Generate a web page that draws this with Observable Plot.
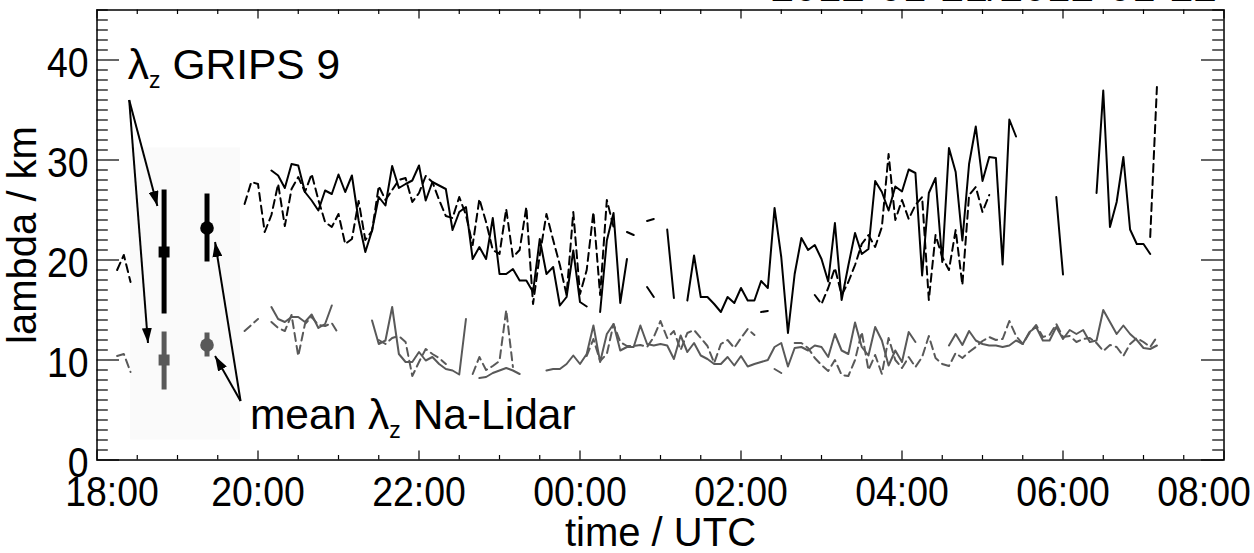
<!DOCTYPE html>
<html>
<head>
<meta charset="utf-8">
<script src="https://cdn.jsdelivr.net/npm/d3@7"></script>
<script src="https://cdn.jsdelivr.net/npm/@observablehq/plot@0.6"></script>
<style>
  html, body { margin: 0; padding: 0; background: white; }
</style>
</head>
<body>
<div id="chart"></div>
<script>
// ---- data (5-minute samples starting 18:00 UTC; null = no value) ----
const startTime = "18:00";
const stepMinutes = 5;

const blackSolid = [
  null,null,null,null,null,null,null,null,null,null,null,null,null,null,null,null,null,null,null,null,null,null,null,null,null,null,
  28.95,28.45,27.2,29.6,29.45,26.8,25.95,24.95,26.95,26.6,28.55,26.8,28.45,23.95,20.8,22.95,26.3,25.45,29.4,27.2,
  27.6,27.95,29.45,25.95,27.8,27.45,27.1,23.0,24.8,25.3,20.1,21.3,20.1,24.2,18.6,18.6,19.1,17.95,17.95,16.8,
  22.1,18.6,19.3,15.45,16.3,20.95,15.8,15.35,null,14.8,21.95,24.7,15.7,20.1,null,null,17.3,16.3,null,23.05,
  16.2,null,15.95,20.45,16.3,16.3,15.6,14.8,16.3,15.7,17.2,15.95,15.95,17.9,17.2,25.2,20.3,12.7,18.6,22.2,
  21.0,21.5,20.1,17.85,23.7,16.0,19.45,22.7,20.6,21.1,27.9,26.8,24.95,27.35,26.85,29.05,28.7,18.45,26.7,28.2,
  19.8,31.2,28.8,21.95,29.6,33.35,27.9,30.3,30.2,19.55,34.05,32.35,null,null,null,null,null,26.3,18.55,null,
  null,null,null,26.7,36.95,23.3,25.8,30.3,23.05,21.6,21.6,20.6,null
];

const blackDashed = [
  null,null,null,19.0,20.5,17.8,null,null,null,null,null,null,null,null,null,null,null,null,null,null,null,null,
  25.6,27.8,27.6,22.8,24.5,27.6,23.4,27.1,28.3,26.8,28.6,26.0,23.8,23.3,24.6,21.6,22.1,25.9,22.0,22.9,
  27.4,26.0,27.0,28.0,28.2,25.8,26.7,28.4,27.8,26.0,24.4,24.2,26.3,24.5,21.5,26.1,23.8,21.0,20.6,25.1,
  20.3,21.0,25.3,15.6,20.5,24.6,22.0,19.5,16.5,24.8,16.6,19.0,24.8,16.5,26.0,23.3,null,22.8,22.5,null,
  23.9,24.1,null,null,null,null,null,null,null,null,null,null,null,null,null,null,null,14.8,14.9,null,
  null,null,null,null,null,16.5,15.6,17.2,19.2,16.5,17.8,19.5,21.6,22.5,21.3,23.3,30.6,24.0,26.0,24.1,
  25.5,26.3,16.0,22.5,20.3,19.0,23.0,17.5,26.5,27.3,24.8,26.5,null,null,null,null,null,null,null,null,
  null,null,null,null,null,null,null,null,null,null,null,null,null,null,null,22.3,37.3
];

const graySolid = [
  null,null,null,null,null,null,null,null,null,null,null,null,null,null,null,null,null,null,null,null,null,null,null,null,null,null,
  15.3,14.1,13.8,14.3,14.3,13.8,14.55,13.2,13.6,15.45,null,null,null,null,null,13.95,11.6,11.95,15.3,10.6,
  9.8,9.8,10.8,9.95,10.3,9.6,9.1,8.95,8.55,14.1,null,8.2,8.3,8.7,8.95,9.2,8.95,8.6,null,null,
  null,8.95,9.1,9.1,9.6,10.45,9.6,10.6,13.45,9.8,12.6,13.6,10.95,11.3,11.3,13.45,11.6,11.45,11.6,11.45,
  10.1,12.45,10.8,11.7,10.45,10.1,9.6,9.6,10.3,9.45,10.4,9.35,9.6,9.8,10.0,11.3,11.7,9.35,11.2,11.3,
  10.95,11.45,11.3,10.3,12.6,10.95,10.6,13.75,11.3,10.45,13.3,11.95,9.45,10.95,9.8,12.8,11.8,null,null,null,
  null,11.45,12.6,11.5,12.9,11.95,11.6,11.45,11.45,11.3,11.45,11.95,11.6,12.8,13.3,11.95,11.95,13.3,12.1,13.0,
  12.6,13.0,11.8,11.95,15.0,13.8,12.6,13.45,12.6,12.0,11.2,11.1,11.45
];

const grayDashed = [
  null,null,null,10.4,10.6,8.8,null,null,null,null,null,null,null,null,null,null,null,null,null,null,null,null,
  12.9,13.5,14.1,null,13.8,13.2,12.9,14.5,10.4,13.6,14.3,13.5,13.4,13.7,12.6,null,null,null,null,null,
  12.0,11.6,12.2,12.4,11.8,8.4,9.8,11.1,10.6,10.2,9.6,null,null,null,8.6,10.3,9.0,9.4,9.9,15.0,
  9.3,null,null,null,null,null,null,null,null,null,null,10.4,12.1,9.9,10.6,13.6,11.8,11.4,11.4,11.5,
  11.3,12.3,13.9,12.2,12.9,11.0,12.7,13.0,12.2,11.4,9.7,11.6,12.0,11.2,12.2,13.1,12.5,null,null,9.1,
  8.7,null,11.7,11.7,11.2,10.2,9.5,8.9,10.0,8.5,8.4,10.0,12.8,9.0,10.5,8.6,12.2,10.0,9.2,10.3,
  9.3,10.3,12.4,10.2,9.6,9.4,10.7,10.2,10.8,11.3,11.9,12.3,12.0,12.1,13.9,12.4,11.6,12.7,13.5,12.3,
  12.5,13.6,12.3,12.4,11.8,12.1,12.2,11.7,10.9,11.5,11.3,10.4,11.6,12.2,11.8,11.3,12.3
];

// mean vertical wavelengths with ranges
const markerLabels = ["GRIPS", "GRIPS", "Na-Lidar", "Na-Lidar"];
const markerTimes  = ["18:50", "18:50", "19:22", "19:22"];
const markerMeans  = [20.8, 10.0, 23.2, 11.5];
const markerLows   = [14.6, 7.0, 19.8, 10.3];
const markerHighs  = [27.0, 12.8, 26.6, 12.7];
const markerGroup  = ["black", "gray", "black", "gray"];

// annotation arrows (start -> end)
const arrowStartTimes = ["18:24", "18:24", "19:47", "19:47"];
const arrowStartVals  = [36.0, 36.0, 5.9, 5.9];
const arrowEndTimes   = ["18:45", "18:38", "19:28", "19:28"];
const arrowEndVals    = [25.4, 11.7, 21.8, 10.4];

const gripsLabel = "λz GRIPS 9";
const gripsLabelTime = "18:23";
const gripsLabelVal = 38.1;
const lidarLabel = "mean λz Na-Lidar";
const lidarLabelTime = "19:54";
const lidarLabelVal = 3.1;

const titleText = "2012-01-21/2012-01-22";
const xLabel = "time / UTC";
const yLabel = "lambda / km";
const xMajorTicks = ["18:00","20:00","22:00","00:00","02:00","04:00","06:00","08:00"];
const yMajorTicks = [0, 10, 20, 30, 40];
const shadeBox = {t1: "18:25", t2: "19:47", v1: 2.0, v2: 31.2};

// ---- helpers ----
const hoursSinceStart = (hhmm) => {
  const [h, m] = hhmm.split(":").map(Number);
  const [h0, m0] = startTime.split(":").map(Number);
  return ((h * 60 + m - h0 * 60 - m0 + 1440) % 1440) / 60;
};
const toRows = (vals) => vals.map((v, i) => ({t: i * stepMinutes / 60, v}));

const BLACK = "#000000";
const GRAY = "#595959";
const DASH = "8,5";

const xMajor = xMajorTicks.map(hoursSinceStart);
const xMinor = d3.range(0, 14.01, 0.5).filter(h => !xMajor.includes(h));
const yMinor = d3.range(0, 45.01, 1).filter(v => !yMajorTicks.includes(v));
const xTickRows = xMajorTicks.map((lab) => ({t: hoursSinceStart(lab), lab}));

const W = 1254, H = 553;
const mL = 96.5, mR = 30.5, mT = 9.5, mB = 93.5;
const fw = W - mL - mR, fh = H - mT - mB;
const yTickMaj = 22.5, yTickMin = 11.3, xTickMaj = 9, xTickMin = 4.5;

const markers = markerTimes.map((t, i) => ({
  t: hoursSinceStart(t), mean: markerMeans[i], lo: markerLows[i], hi: markerHighs[i],
  color: markerGroup[i] === "black" ? BLACK : GRAY, label: markerLabels[i]
}));
const arrows = arrowStartTimes.map((t, i) => ({
  x1: hoursSinceStart(t), y1: arrowStartVals[i], x2: hoursSinceStart(arrowEndTimes[i]), y2: arrowEndVals[i]
}));

const tickFont = 43;
const chart = Plot.plot({
  width: W, height: H,
  marginLeft: mL, marginRight: mR, marginTop: mT, marginBottom: mB,
  style: {fontFamily: "'Liberation Sans', Arial, Helvetica, sans-serif", fontSize: "40px", color: "black", background: "white"},
  x: {domain: [0, 14], axis: null},
  y: {domain: [0, 45], axis: null},
  marks: [
    Plot.rect([shadeBox], {x1: d => hoursSinceStart(d.t1), x2: d => hoursSinceStart(d.t2), y1: "v1", y2: "v2", fill: "#fafafa"}),
    // minor & major ticks, inward on all four sides
    Plot.tickY(yMinor, {y: d => d, insetRight: fw - yTickMin, strokeWidth: 1.2}),
    Plot.tickY(yMinor, {y: d => d, insetLeft: fw - yTickMin, strokeWidth: 1.2}),
    Plot.tickY(yMajorTicks, {y: d => d, insetRight: fw - yTickMaj, strokeWidth: 1.2}),
    Plot.tickY(yMajorTicks, {y: d => d, insetLeft: fw - yTickMaj, strokeWidth: 1.2}),
    Plot.tickX(xMinor, {x: d => d, insetTop: fh - xTickMin, strokeWidth: 1.2}),
    Plot.tickX(xMinor, {x: d => d, insetBottom: fh - xTickMin, strokeWidth: 1.2}),
    Plot.tickX(xMajor, {x: d => d, insetTop: fh - xTickMaj, strokeWidth: 1.2}),
    Plot.tickX(xMajor, {x: d => d, insetBottom: fh - xTickMaj, strokeWidth: 1.2}),
    // tick labels (first and last kept inside the picture as in the reference)
    Plot.text(xTickRows.slice(1, -1), {x: "t", frameAnchor: "bottom", text: "lab", dy: 45.5, lineAnchor: "bottom", textAnchor: "middle", fontSize: tickFont}),
    Plot.text(xTickRows.slice(0, 1), {x: "t", frameAnchor: "bottom", text: "lab", dy: 46, dx: 15, lineAnchor: "bottom", textAnchor: "middle", fontSize: tickFont}),
    Plot.text(xTickRows.slice(-1), {x: "t", frameAnchor: "bottom", text: "lab", dy: 45.5, dx: -20, lineAnchor: "bottom", textAnchor: "middle", fontSize: tickFont}),
    Plot.text(yMajorTicks, {y: d => d, frameAnchor: "left", text: d => String(d), dx: -8.5, dy: 3, textAnchor: "end", fontSize: tickFont}),
    // data series
    Plot.line(toRows(graySolid), {x: "t", y: "v", stroke: GRAY, strokeWidth: 2}),
    Plot.line(toRows(grayDashed), {x: "t", y: "v", stroke: GRAY, strokeWidth: 2, strokeDasharray: DASH}),
    Plot.line(toRows(blackDashed), {x: "t", y: "v", stroke: BLACK, strokeWidth: 2, strokeDasharray: DASH}),
    Plot.line(toRows(blackSolid), {x: "t", y: "v", stroke: BLACK, strokeWidth: 2}),
    // mean values with ranges
    Plot.ruleX(markers, {x: "t", y1: "lo", y2: "hi", stroke: "color", strokeWidth: 5}),
    Plot.dot(markers.filter(d => d.label === "GRIPS"), {x: "t", y: "mean", fill: "color", symbol: "square", r: 6.2, stroke: null}),
    Plot.dot(markers.filter(d => d.label !== "GRIPS"), {x: "t", y: "mean", fill: "color", symbol: "circle", r: 6.8, stroke: null}),
    // annotations
    Plot.link(arrows, {x1: "x1", y1: "y1", x2: "x2", y2: "y2", stroke: BLACK, strokeWidth: 2}),
    Plot.text([gripsLabel], {x: hoursSinceStart(gripsLabelTime), y: gripsLabelVal, text: d => d, textAnchor: "start", lineAnchor: "bottom", fontSize: 42.5}),
    Plot.text([lidarLabel], {x: hoursSinceStart(lidarLabelTime), y: lidarLabelVal, text: d => d, textAnchor: "start", lineAnchor: "bottom", fontSize: 42.5}),
    Plot.text([xLabel], {frameAnchor: "bottom", dy: 85.5, text: d => d, textAnchor: "middle", lineAnchor: "bottom", fontSize: 40}),
    Plot.text([yLabel], {frameAnchor: "left", dx: -61.5, dy: 0, rotate: -90, text: d => d, textAnchor: "middle", lineAnchor: "bottom", fontSize: 40}),
    Plot.text([titleText], {frameAnchor: "top-right", dx: -7, dy: -9, text: d => d, textAnchor: "end", lineAnchor: "bottom", fontSize: 42.5}),
    Plot.frame({stroke: BLACK, strokeWidth: 1.5})
  ]
});

document.getElementById("chart").appendChild(chart);

// ---- post-processing: narrow tick labels, subscripts, filled arrowheads ----
const svg = d3.select(chart.tagName.toLowerCase() === "svg" ? chart : chart.querySelector("svg"));
svg.selectAll("text").each(function () {
  const t = this.textContent;
  if (/^\d\d:\d\d$/.test(t) || /^\d{1,2}$/.test(t)) {
    const tr = this.getAttribute("transform") || "";
    this.setAttribute("transform", tr + " scale(0.87,1)");
  }
  if (t.includes("λz") && this.childNodes.length === 1) {
    const [a, b] = t.split("λz");
    const sel = d3.select(this);
    sel.text(null);
    sel.append("tspan").text(a + "λ");
    sel.append("tspan").attr("font-size", "23px").attr("dy", 9).text("z");
    sel.append("tspan").attr("dy", -9).text(b);
  }
});
const defs = svg.insert("defs", ":first-child");
defs.append("marker")
  .attr("id", "arrowhead")
  .attr("viewBox", "0 -5 15 10")
  .attr("refX", 15).attr("refY", 0)
  .attr("markerWidth", 15).attr("markerHeight", 10)
  .attr("markerUnits", "userSpaceOnUse")
  .attr("orient", "auto")
  .append("path").attr("d", "M0,-5L15,0L0,5Z").attr("fill", "black");
svg.selectAll('g[aria-label="link"] path').attr("marker-end", "url(#arrowhead)");
</script>
</body>
</html>
